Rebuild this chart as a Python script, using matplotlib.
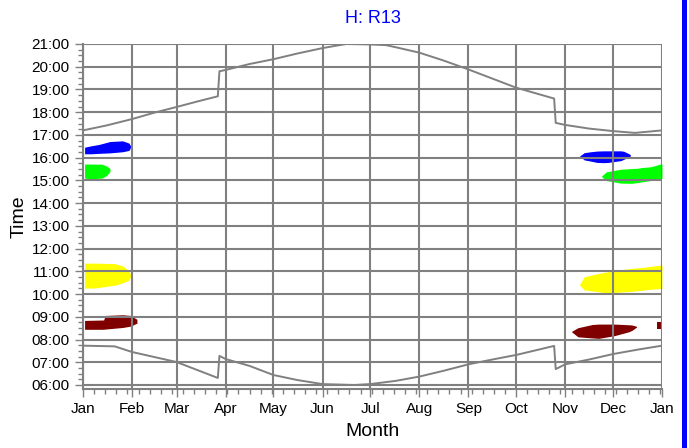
import matplotlib
matplotlib.use("Agg")
import matplotlib.pyplot as plt
from matplotlib.patches import Rectangle
from matplotlib.ticker import MultipleLocator, FixedLocator

plt.rcParams['font.family'] = ['Liberation Sans', 'DejaVu Sans']

# month starts (day of year) and labels
month_days = [0, 31, 59, 90, 120, 151, 181, 212, 243, 273, 304, 334, 365]
month_labels = ["Jan", "Feb", "Mar", "Apr", "May", "Jun", "Jul", "Aug",
                "Sep", "Oct", "Nov", "Dec", "Jan"]
hour_ticks = list(range(6, 22))

# sunset / sunrise (hours)
sunset_days = [0, 15, 31, 45, 59, 72, 85, 86, 90, 105, 120, 135, 151, 160, 166, 181, 191,
               197, 212, 227, 243, 258, 273, 285, 297, 298, 304, 319, 334, 348, 365]
sunset_hours = [17.2, 17.42, 17.7, 17.98, 18.23, 18.47, 18.7, 19.8, 19.86, 20.12, 20.33, 20.58,
                20.82, 20.93, 21.0, 20.98, 20.95, 20.86, 20.62, 20.28, 19.88, 19.48, 19.08,
                18.84, 18.6, 17.53, 17.44, 17.28, 17.17, 17.09, 17.2]
sunrise_days = [0, 20, 31, 45, 59, 72, 85, 86, 90, 105, 120, 135, 151, 171, 181, 197, 212,
                227, 243, 258, 273, 285, 297, 298, 304, 319, 334, 350, 365]
sunrise_hours = [7.73, 7.7, 7.45, 7.23, 7.01, 6.66, 6.31, 7.28, 7.14, 6.84, 6.44, 6.22, 6.04,
                 6.0, 6.04, 6.18, 6.37, 6.62, 6.91, 7.12, 7.32, 7.52, 7.72, 6.7, 6.91, 7.12,
                 7.36, 7.56, 7.73]

# coloured bands: (days, lower, upper)
blue_l = ([1, 5, 10, 17, 25, 29, 30],
          [16.17, 16.17, 16.19, 16.21, 16.26, 16.32, 16.45],
          [16.46, 16.52, 16.58, 16.71, 16.74, 16.64, 16.52])
green_l = ([1, 5, 12, 15, 17],
           [15.1, 15.07, 15.1, 15.22, 15.4],
           [15.72, 15.72, 15.71, 15.63, 15.52])
yellow_l = ([1, 8, 20, 25, 29, 30],
            [10.26, 10.27, 10.39, 10.49, 10.62, 10.75],
            [11.36, 11.36, 11.34, 11.24, 11.02, 10.86])
red_l = ([1, 13, 14, 25, 30, 34],
         [8.45, 8.45, 8.46, 8.53, 8.59, 8.72],
         [8.84, 8.86, 9.06, 9.09, 9.06, 8.89])
blue_r = ([313, 316, 320, 324, 328, 331, 339, 341, 345],
          [16.07, 15.9, 15.85, 15.79, 15.78, 15.79, 15.87, 15.93, 16.07],
          [16.07, 16.22, 16.26, 16.29, 16.3, 16.3, 16.3, 16.28, 16.14])
green_r = ([327, 330, 339, 346, 349, 353, 358, 364, 365],
           [15.16, 14.99, 14.88, 14.87, 14.9, 14.94, 15.0, 15.09, 15.09],
           [15.2, 15.38, 15.49, 15.52, 15.53, 15.57, 15.6, 15.72, 15.72])
yellow_r = ([313, 316, 325, 329, 335, 342, 346, 354, 356, 365],
            [10.4, 10.18, 10.1, 10.06, 10.07, 10.1, 10.12, 10.18, 10.2, 10.25],
            [10.42, 10.76, 10.91, 10.96, 11.02, 11.1, 11.13, 11.18, 11.2, 11.28])
red_r = ([308, 312, 321, 325, 335, 344, 346, 349],
         [8.34, 8.12, 8.07, 8.05, 8.17, 8.34, 8.4, 8.55],
         [8.36, 8.52, 8.66, 8.68, 8.68, 8.65, 8.64, 8.58])
red_r2 = ([362, 365], [8.46, 8.46], [8.78, 8.78])

bands = [(blue_l, "#0000ff"), (green_l, "#00ff00"), (yellow_l, "#ffff00"), (red_l, "#800000"),
         (blue_r, "#0000ff"), (green_r, "#00ff00"), (yellow_r, "#ffff00"), (red_r, "#800000"),
         (red_r2, "#800000")]

fig = plt.figure(figsize=(6.89, 4.48), dpi=100)
ax = fig.add_axes([83 / 689, 1 - 389 / 448, 579 / 689, 345 / 448])

for (d, lo, hi), c in bands:
    ax.fill_between(d, lo, hi, color=c, lw=0, zorder=1)

ax.plot(sunset_days, sunset_hours, color="#808080", lw=1.4, zorder=2)
ax.plot(sunrise_days, sunrise_hours, color="#808080", lw=1.4, zorder=2)

ax.set_xlim(0, 365)
ax.set_ylim(6 - 4 / 22.73, 21)

ax.xaxis.set_major_locator(FixedLocator(month_days))
ax.set_xticklabels(month_labels)
ax.xaxis.set_minor_locator(MultipleLocator(7))
ax.set_yticks(hour_ticks)
ax.set_yticklabels([f"{h:02d}:00" for h in hour_ticks])
ax.yaxis.set_minor_locator(MultipleLocator(0.25))

ax.grid(True, which="major", color="#808080", lw=1.5)
ax.tick_params(which="major", direction="out", length=6, width=1, color="#808080",
               labelsize=11, labelcolor="black")
ax.tick_params(which="minor", direction="out", length=3.5, width=1, color="#808080")
for s in ["top", "right"]:
    ax.spines[s].set_visible(False)
for s in ["left", "bottom"]:
    ax.spines[s].set_color("#808080")
    ax.spines[s].set_linewidth(1.5)

ax.set_title("H: R13", color="#0000ff", fontsize=13, pad=15)
ax.set_xlabel("Month", fontsize=14, labelpad=5)
ax.set_ylabel("Time", fontsize=14, labelpad=3)

fig.add_artist(Rectangle((682 / 689, 0), 5 / 689, 1, transform=fig.transFigure,
                         color="#0000ff", lw=0))

fig.savefig("out.png", dpi=100)
